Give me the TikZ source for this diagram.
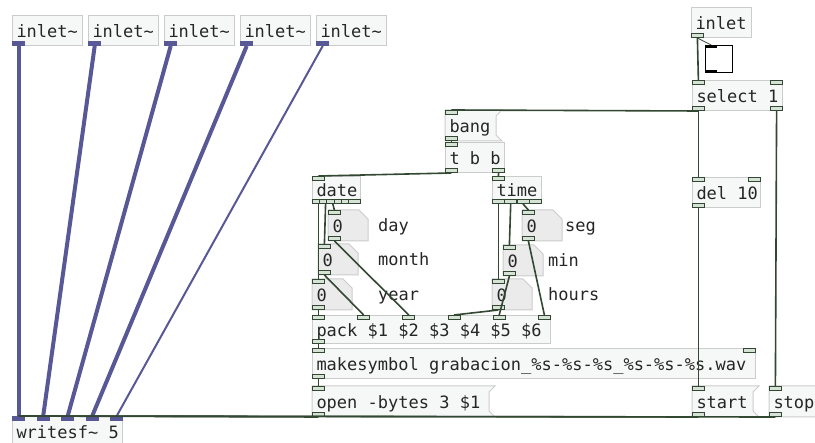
\documentclass[tikz,border=0pt]{standalone}
\usepackage{fontspec}
\newfontfamily\pdfont{DejaVu Sans Mono}
\usetikzlibrary{backgrounds}
\definecolor{boxLine}{RGB}{204,204,204}
\definecolor{boxFill}{RGB}{246,248,247}
\definecolor{numFill}{RGB}{235,235,235}
\definecolor{ctlLine}{RGB}{50,72,50}
\definecolor{ioFill}{RGB}{214,226,214}
\definecolor{sigLine}{RGB}{88,88,150}

\begin{document}
\begin{tikzpicture}[x=1pt, y=-1pt,
    every node/.style={font=\pdfont\fontsize{17}{20}\selectfont, text=black!85},
    obj/.style={draw=boxLine, fill=boxFill, line width=1, anchor=north west, align=left,
        inner xsep=4, inner ysep=0, minimum height=30, text height=17, text depth=3,
        execute at begin node={\spaceskip=0.602em\relax\hbox to 0pt\bgroup},
        execute at end node={\hss\egroup}},
    msg/.style={obj, draw=none, fill=none},
    num/.style={obj, draw=none, fill=none, text width=31},
    lbl/.style={anchor=base west, inner sep=0},
    cio/.style={draw=ctlLine, fill=ioFill, line width=0.8, minimum width=12, minimum height=4, inner sep=0},
    sio/.style={fill=sigLine, minimum width=13, minimum height=5, inner sep=0},
    ctl/.style={draw=ctlLine, line width=1.6},
    sig/.style={draw=sigLine, line width=4}
]
    \clip (0,0) rectangle (815,443);

    % audio inlets
    \foreach \i in {0,...,4} {
        \node[obj, text width=62] (sig\i) at ({12+76*\i},15) {inlet\textasciitilde};
        \node[sio, anchor=south west] (sig\i-o) at (sig\i.south west) {};
    }

    % control side
    \node[obj, text width=52] (inlet) at (691,7) {inlet};
    \node[draw=black, line width=1.2, fill=white, minimum size=27, inner sep=0, anchor=north west] (tgl) at (705,45) {};
    \node[fill=black, minimum width=12, minimum height=3, inner sep=0, anchor=north west] (tgl-i) at (tgl.north west) {};
    \node[fill=black, minimum width=12, minimum height=3, inner sep=0, anchor=south west] (tgl-o) at (tgl.south west) {};
    \node[obj, text width=82] (sel) at (692,80) {select 1};
    \node[msg, text width=42] (bang) at (445,110) {bang};
    \node[obj, text width=51] (tbb) at (445,142) {t b b};
    \node[obj, text width=40, minimum height=27] (date) at (312,176) {date};
    \node[obj, text width=41, minimum height=27] (time) at (492,176) {time};
    \node[obj, text width=60] (del) at (692,177) {del 10};

    % number boxes
    \node[num] (day) at (328,210) {0};
    \node[num] (month) at (318,244) {0};
    \node[num] (year) at (312,279) {0};
    \node[num] (seg) at (522,210) {0};
    \node[num] (min) at (503,245) {0};
    \node[num] (hours) at (492,279) {0};
    \node[lbl] (dayLbl) at (378,232) {day};
    \node[lbl] (monthLbl) at (378,266) {month};
    \node[lbl] (yearLbl) at (378,301) {year};
    \node[lbl] (segLbl) at (565,232) {seg};
    \node[lbl] (minLbl) at (548,267) {min};
    \node[lbl] (hoursLbl) at (548,301) {hours};

    \node[obj, text width=230, minimum height=28] (pack) at (312,315) {pack \$1 \$2 \$3 \$4 \$5 \$6};
    \node[obj, text width=435] (mks) at (312,348) {makesymbol grabacion\_\%s-\%s-\%s\_\%s-\%s-\%s.wav};
    \node[msg, text width=168] (open) at (312,386) {open -bytes 3 \$1};
    \node[msg, text width=52] (start) at (692,386) {start};
    \node[msg, text width=42] (stop) at (769,386) {stop};
    \node[obj, text width=102] (wsf) at (12,416) {writesf\textasciitilde{} 5};

    % message and number outlines
    \begin{scope}[on background layer]
        \fill[white] (0,0) rectangle (815,443);
        \foreach \nm in {bang,open,start,stop}
            \draw[draw=boxLine, fill=boxFill, line width=1] (\nm.north west) -- ([xshift=6]\nm.north east)
                -- ([yshift=-6]\nm.north east) -- ([yshift=6]\nm.south east)
                -- ([xshift=6]\nm.south east) -- (\nm.south west) -- cycle;
        \foreach \nm in {day,month,year,seg,min,hours}
            \draw[draw=boxLine, fill=numFill, line width=1] (\nm.north west) -- ([xshift=-9]\nm.north east)
                -- ([yshift=-9]\nm.north east) -- (\nm.south east) -- (\nm.south west) -- cycle;
    \end{scope}

    % iolets
    \foreach \nm in {sel,tbb,date,time,del,mks,bang,open,start,stop,day,month,year,seg,min,hours}
        \node[cio, anchor=north west] (\nm-i) at (\nm.north west) {};
    \foreach \nm in {inlet,sel,tbb,del,pack,mks,bang,open,start,stop,day,month,year,seg,min,hours}
        \node[cio, anchor=south west] (\nm-o) at (\nm.south west) {};
    \foreach \nm in {sel,del,mks}
        \node[cio, anchor=north east] (\nm-ri) at (\nm.north east) {};
    \foreach \nm in {sel,tbb}
        \node[cio, anchor=south east] (\nm-ro) at (\nm.south east) {};
    \foreach \i in {0,...,5}
        \node[cio, anchor=south west] (date-o\i) at ([xshift=\i*7.2]date.south west) {};
    \foreach \i in {0,...,3}
        \node[cio, anchor=south west] (time-o\i) at ([xshift=\i*12.3]time.south west) {};
    \foreach \i in {0,...,5}
        \node[cio, anchor=north west] (pack-i\i) at ([xshift=\i*45.2]pack.north west) {};
    \foreach \i in {0,...,4}
        \node[sio, anchor=north west] (wsf-i\i) at ([xshift=\i*24.5]wsf.north west) {};

    % audio connections
    \foreach \i in {0,...,3}
        \draw[sig] (sig\i-o.south) -- (wsf-i\i.north);
    \draw[sig, line width=2] (sig4-o.south) -- (wsf-i4.north);

    % control connections
    \draw[ctl] (inlet-o.south) -- (sel-i.north);
    \draw[ctl, line width=0.8] (inlet-o.south) -- (tgl-i.north);
    \draw[ctl] (sel-o.south) -- (bang-i.north);
    \draw[ctl] (sel-o.south) -- (del-i.north);
    \draw[ctl] (sel-ro.south) -- (stop-i.north);
    \draw[ctl] (bang-o.south) -- (tbb-i.north);
    \draw[ctl] (tbb-o.south) -- (date-i.north);
    \draw[ctl] (tbb-ro.south) -- (time-i.north);
    \draw[ctl] (date-o0.south) -- (year-i.north);
    \draw[ctl] (date-o1.south) -- (month-i.north);
    \draw[ctl] (date-o2.south) -- (day-i.north);
    \draw[ctl] (time-o0.south) -- (hours-i.north);
    \draw[ctl] (time-o1.south) -- (min-i.north);
    \draw[ctl] (time-o2.south) -- (seg-i.north);
    \draw[ctl] (year-o.south) -- (pack-i0.north);
    \draw[ctl] (month-o.south) -- (pack-i1.north);
    \draw[ctl] (day-o.south) -- (pack-i2.north);
    \draw[ctl] (hours-o.south) -- (pack-i3.north);
    \draw[ctl] (min-o.south) -- (pack-i4.north);
    \draw[ctl] (seg-o.south) -- (pack-i5.north);
    \draw[ctl] (pack-o.south) -- (mks-i.north);
    \draw[ctl] (mks-o.south) -- (open-i.north);
    \draw[ctl] (del-o.south) -- (start-i.north);
    \draw[ctl] (open-o.south) -- (wsf-i0.north);
    \draw[ctl] (start-o.south) -- (wsf-i0.north);
    \draw[ctl] (stop-o.south) -- (wsf-i0.north);
\end{tikzpicture}
\end{document}
